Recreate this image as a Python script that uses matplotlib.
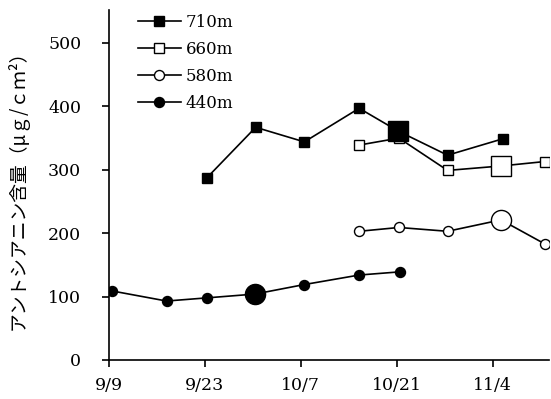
import matplotlib
matplotlib.use("Agg")
import matplotlib.pyplot as plt

# Dades llegides del gràfic (dies des del 9/9)
days_710 = [14.25, 21.4, 28.5, 36.5, 42.2, 49.4, 57.5]
vals_710 = [287, 367, 344, 397, 361, 323, 349]

days_660 = [36.5, 42.3, 49.4, 57.2, 63.6]
vals_660 = [339, 350, 299, 306, 313]

days_580 = [36.5, 42.3, 49.4, 57.2, 63.6]
vals_580 = [203, 209, 203, 221, 183]

days_440 = [0.4, 8.4, 14.3, 21.3, 28.5, 36.5, 42.4]
vals_440 = [109, 93, 98, 104, 119, 134, 139]

# index del punt gran de cada serie
big_710 = 4
big_660 = 3
big_580 = 3
big_440 = 3

tick_days = [0, 14, 28, 42, 56]
tick_labels = ["9/9", "9/23", "10/7", "10/21", "11/4"]

plt.rcParams["font.family"] = ["DejaVu Serif"]

fig = plt.figure(figsize=(5.51, 3.99), dpi=100)
ax = fig.add_axes([109 / 551, 39 / 399, 440 / 551, 350 / 399])

small = 7.2
big = 14.5

series = [
    (days_710, vals_710, big_710, "s", "black", "710m"),
    (days_660, vals_660, big_660, "s", "white", "660m"),
    (days_580, vals_580, big_580, "o", "white", "580m"),
    (days_440, vals_440, big_440, "o", "black", "440m"),
]

for d, v, b, m, fc, name in series:
    ax.plot(d, v, color="black", linewidth=1.2, marker=m, markersize=small,
            markerfacecolor=fc, markeredgecolor="black", markeredgewidth=1.0,
            label=name, zorder=3)
    ax.plot([d[b]], [v[b]], linestyle="none", marker=m, markersize=big,
            markerfacecolor=fc, markeredgecolor="black", markeredgewidth=1.0,
            zorder=4)

ax.set_xlim(0, 64.2)
ax.set_ylim(0, 552)
ax.set_xticks(tick_days)
ax.set_xticklabels(tick_labels)
ax.set_yticks([0, 100, 200, 300, 400, 500])

ax.spines["top"].set_visible(False)
ax.spines["right"].set_visible(False)
ax.spines["left"].set_linewidth(1.2)
ax.spines["bottom"].set_linewidth(1.2)
ax.tick_params(axis="y", direction="out", length=5, width=1.2, pad=15, labelsize=12.5)
ax.tick_params(axis="x", direction="out", length=5, width=1.2, pad=7, labelsize=12.5)

ax.set_ylabel("アントシアニン含量（μｇ/ｃｍ²）", family=["Noto Sans CJK JP", "DejaVu Serif"],
              fontsize=13.5)
ax.yaxis.set_label_coords(-0.182, 0.5)

ax.legend(loc="upper left", bbox_to_anchor=(0.065, 0.99), frameon=False,
          borderpad=0, borderaxespad=0, handlelength=2.6, handletextpad=0.3,
          labelspacing=0.6, fontsize=12)

plt.savefig("out.png", dpi=100)
